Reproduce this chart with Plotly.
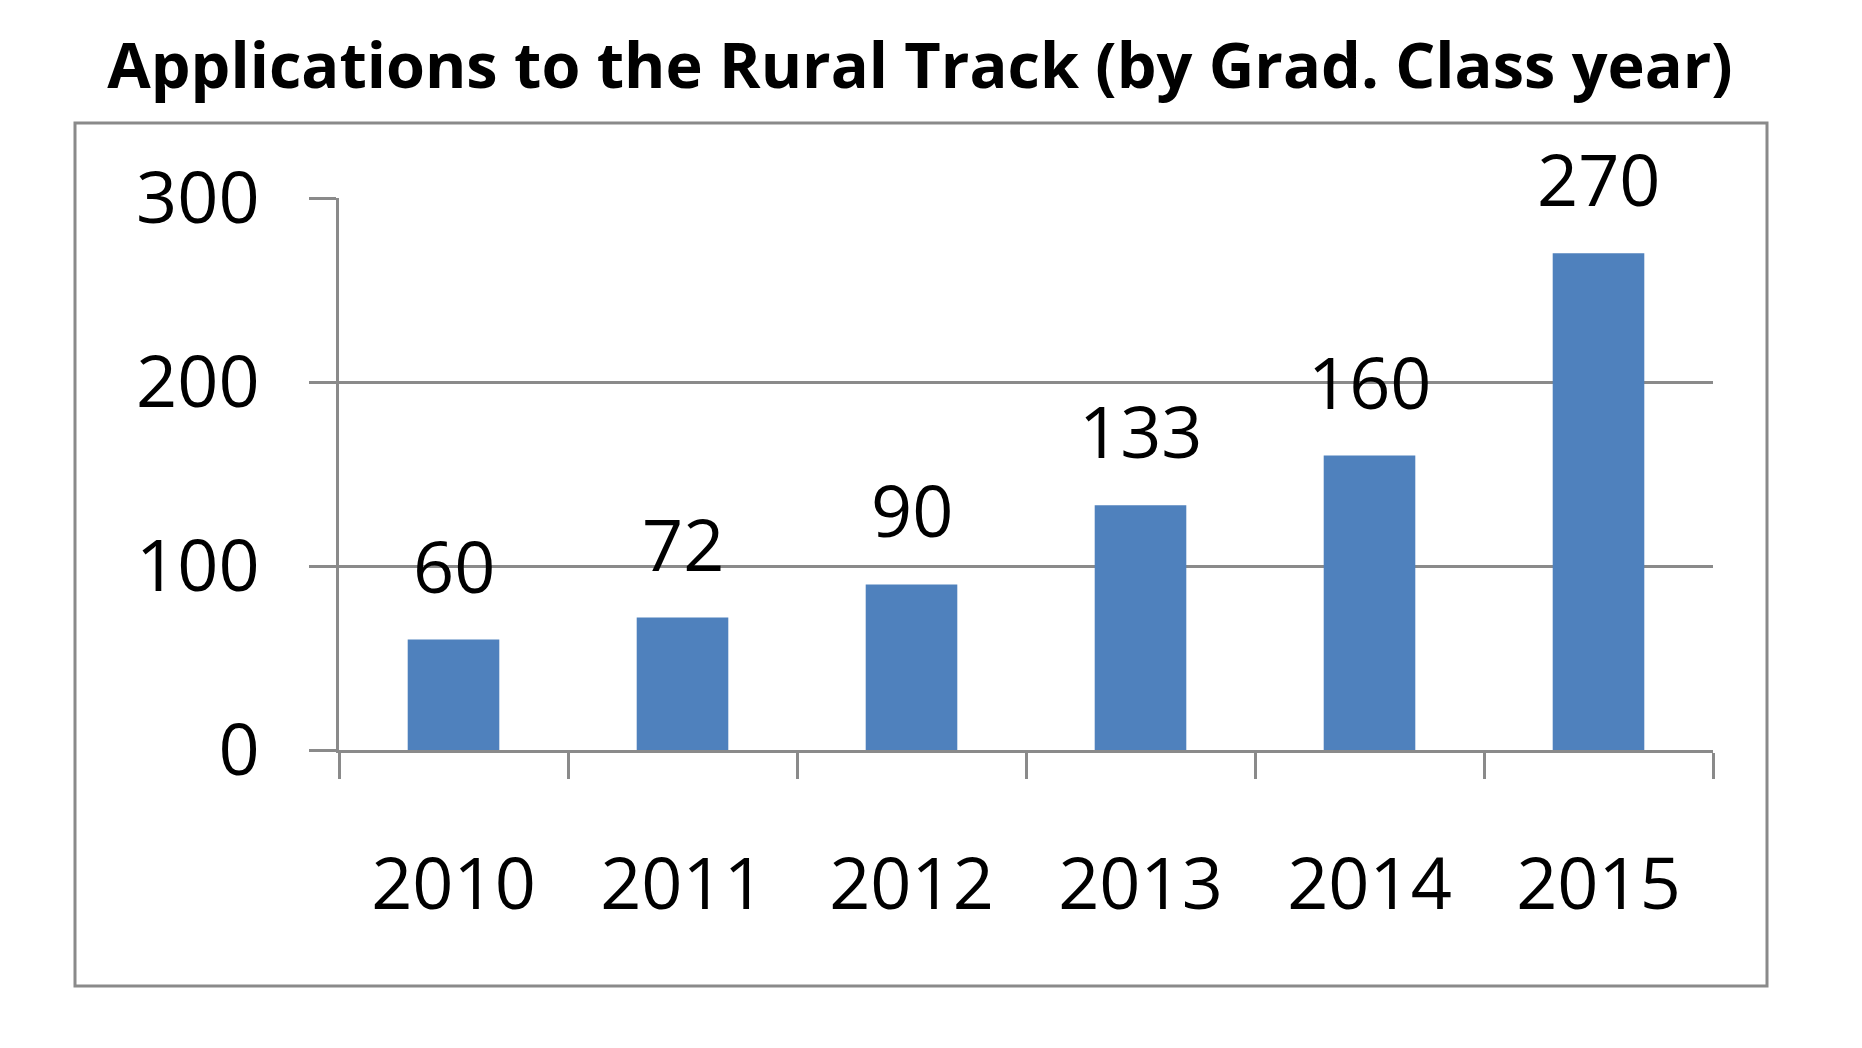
import plotly.graph_objects as go

# data
years = ["2010", "2011", "2012", "2013", "2014", "2015"]
applications = [60, 72, 90, 133, 160, 270]
y_ticks = [0, 100, 200, 300]

W, H = 1862, 1048
# plot area in pixels (left, right, top, bottom)
PL, PR, PT, PB = 339, 1713, 198, 750

bar_color = "#4F81BD"
line_color = "#8A8A8A"
font_family = "Open Sans, Liberation Sans, sans-serif"


def px_x(p):
    return (p - PL) / (PR - PL)


def px_y(p):
    return (PB - p) / (PB - PT)


fig = go.Figure()

fig.add_trace(go.Bar(
    x=years, y=applications,
    marker_color=bar_color, marker_line_width=0,
    hoverinfo="x+y",
))

# value labels above each bar (category index on the x axis)
for i, val in enumerate(applications):
    fig.add_annotation(
        x=i, y=val, text=str(val), showarrow=False,
        yanchor="bottom", yshift=24,
        font=dict(family=font_family, size=72, color="black"),
    )

# outer chart frame
fig.add_shape(
    type="rect", xref="paper", yref="paper",
    x0=px_x(75), x1=px_x(1767), y0=px_y(986), y1=px_y(123),
    line=dict(color=line_color, width=3), layer="below",
)

fig.update_layout(
    width=W, height=H,
    margin=dict(l=PL, r=W - PR, t=PT, b=H - PB, pad=0),
    paper_bgcolor="white", plot_bgcolor="white",
    bargap=0.6,
    showlegend=False,
    font=dict(family=font_family, color="black"),
    title=dict(
        text="<b>Applications to the Rural Track (by Grad. Class year)</b>",
        x=920 / W, xref="container", xanchor="center",
        y=1 - 66 / H, yref="container", yanchor="middle",
        font=dict(family=font_family, size=63, color="black"),
    ),
)

fig.update_xaxes(
    type="category", range=[-0.5, len(years) - 0.5],
    showline=True, linecolor=line_color, linewidth=3,
    ticks="outside", tickson="boundaries", ticklen=26, tickwidth=3, tickcolor=line_color,
    ticklabelstandoff=70,
    tickfont=dict(family=font_family, size=72, color="black"),
    showgrid=False,
)

fig.update_yaxes(
    range=[0, 300], tickvals=y_ticks,
    showline=True, linecolor=line_color, linewidth=3,
    showgrid=True, gridcolor=line_color, gridwidth=3,
    zeroline=False,
    ticks="outside", ticklen=27, tickwidth=3, tickcolor=line_color,
    ticklabelstandoff=35,
    tickfont=dict(family=font_family, size=72, color="black"),
)

fig.write_html(
    "out.html",
    config={"displayModeBar": False},
    post_script="document.body.style.margin='0px';",
)
